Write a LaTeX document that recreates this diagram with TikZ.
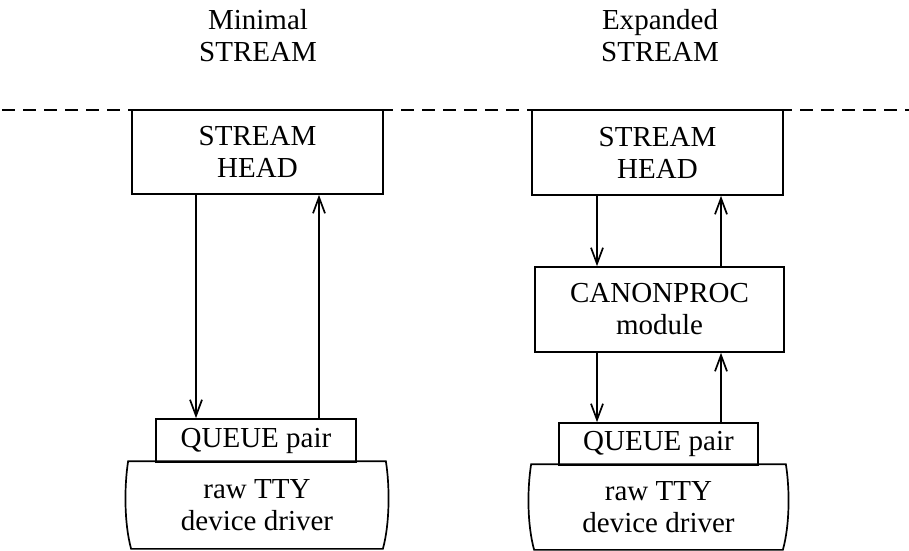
\documentclass[tikz,border=0pt]{standalone}
\usepackage{fontspec}
\setmainfont{Liberation Serif}
\usetikzlibrary{arrows.meta,calc}
\begin{document}
\begin{tikzpicture}[x=1pt,y=-1pt,
  line width=1.7pt,
  every node/.style={font=\fontsize{29}{32}\selectfont, align=center, inner sep=0pt},
  box/.style={draw, rectangle, line width=1.7pt},
  arr/.style={-{Straight Barb[length=16pt,width=12pt,line width=1.7pt]}},
  lbl/.style={draw=none}]
\useasboundingbox (0,0) rectangle (909,550);
% titles
\node[lbl] (t1) at (258,36) {Minimal\\STREAM};
\node[lbl] (t2) at (660,36) {Expanded\\STREAM};
% dashed line
\coordinate (dl) at (2,110);
\coordinate (dr) at (909,110);
\draw[dash pattern=on 13pt off 8pt] (dl) -- (dr);
% left column
\node[box, minimum width=251pt, minimum height=84pt] (lhead) at (257.5,152) {STREAM\\HEAD};
\node[box, minimum width=200pt, minimum height=43pt] (lq) at (256,440.5) {QUEUE pair};
\node[lbl, minimum width=256pt, minimum height=86pt] (lraw) at (257,505) {raw TTY\\device driver};
% right column
\node[box, minimum width=251pt, minimum height=85pt] (rhead) at (657.5,152.5) {STREAM\\HEAD};
\node[box, minimum width=249pt, minimum height=85pt] (canon) at (659.5,309.5) {CANONPROC\\module};
\node[box, minimum width=199pt, minimum height=42pt] (rq) at (658.5,444) {QUEUE pair};
\node[lbl, minimum width=253pt, minimum height=84pt] (rraw) at (658.5,507) {raw TTY\\device driver};
% driver outlines
\foreach \r in {lraw,rraw}{
  \draw (\r.north west)
    .. controls ($(\r.north west)+(-4,25)$) and ($(\r.south west)+(-4,-25)$) .. ($(\r.south west)+(3,0)$)
    -- ($(\r.south east)+(-3,0)$)
    .. controls ($(\r.south east)+(4,-25)$) and ($(\r.north east)+(4,25)$) .. (\r.north east)
    -- cycle;
}
% arrow x positions
\coordinate (xld) at (196,0);
\coordinate (xlu) at (319,0);
\coordinate (xrd) at (597,0);
\coordinate (xru) at (721,0);
% left arrows
\draw[arr] (lhead.south -| xld) -- (lq.north -| xld);
\draw[arr] (lq.north -| xlu) -- (lhead.south -| xlu);
% right arrows
\draw[arr] (rhead.south -| xrd) -- (canon.north -| xrd);
\draw[arr] (canon.north -| xru) -- (rhead.south -| xru);
\draw[arr] (canon.south -| xrd) -- (rq.north -| xrd);
\draw[arr] (rq.north -| xru) -- (canon.south -| xru);
\end{tikzpicture}
\end{document}
